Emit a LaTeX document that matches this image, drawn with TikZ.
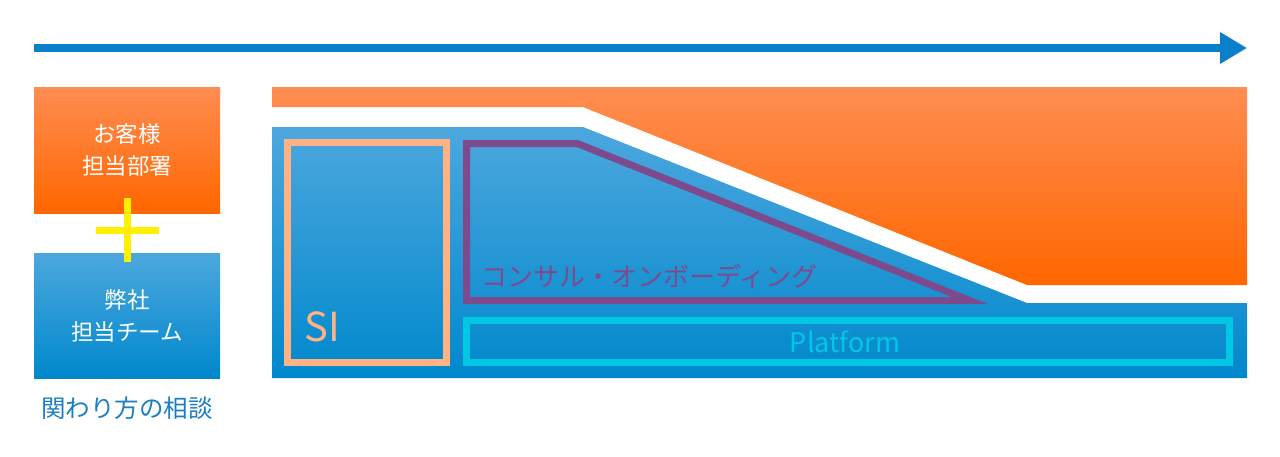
\documentclass[tikz,border=0pt]{standalone}
\usepackage{fontspec}
\setmainfont{Noto Sans CJK JP}
\usepackage{tikz}
\usetikzlibrary{positioning,arrows.meta}

\definecolor{orgtop}{HTML}{FF8D52}
\definecolor{orgbot}{HTML}{FF6600}
\definecolor{blutop}{HTML}{4DA7DE}
\definecolor{blubot}{HTML}{0088CC}
\definecolor{arrblue}{HTML}{0A7FCC}
\definecolor{peach}{HTML}{FFB385}
\definecolor{grape}{HTML}{7E4A8E}
\definecolor{aqua}{HTML}{00C8E4}
\definecolor{plusyel}{HTML}{FFF000}
\definecolor{capblue}{HTML}{1B7EC2}

\begin{document}
\begin{tikzpicture}[
  x=1pt, y=-1pt,
  orgfill/.style={top color=orgtop, bottom color=orgbot, draw=none},
  blufill/.style={top color=blutop, bottom color=blubot, draw=none},
  sidebox/.style={minimum width=186pt, inner sep=0pt, text=white,
    align=center, font=\fontsize{22.5}{32}\selectfont},
  frame/.style={line width=7pt, fill=none},
  plusbar/.style={plusyel, line width=7pt},
  timearr/.style={arrblue, line width=8pt, -{Triangle[length=27pt,width=30pt]}},
]
  \useasboundingbox (0,0) rectangle (1280,456);

  % Time arrow
  \coordinate (tstart) at (34,48);
  \coordinate (tend) at (1247,48);
  \draw[timearr] (tstart) -- (tend);

  % Left side: who is involved
  \node[sidebox, orgfill, minimum height=126pt] (client) at (127,150)
    {お客様\\担当部署};
  \node[sidebox, blufill, minimum height=125pt] (team) at (127,315.5)
    {弊社\\担当チーム};
  \draw[plusbar] (127,198) -- (127,262);
  \draw[plusbar] (96,230) -- (159,230);
  \node[below=15pt of team, text=capblue, font=\fontsize{24.5}{24.5}\selectfont]
    (howto) {関わり方の相談};

  % Right side: share of the work over time
  \path[orgfill] (272,87) -- (1247,87) -- (1247,285) -- (1027,285)
    -- (583,107) -- (272,107) -- cycle;
  \path[blufill] (272,127) -- (583,127) -- (1027,303) -- (1247,303)
    -- (1247,378) -- (272,378) -- cycle;

  % Inner frames
  \draw[frame, peach] (287.5,142.5) rectangle (446.5,362.5);
  \draw[frame, grape] (466.5,143.5) -- (577.3,143.5) -- (969.8,300.5)
    -- (466.5,300.5) -- cycle;
  \draw[frame, aqua] (466.5,320.5) rectangle (1229.5,362.5);

  % Labels
  \node[anchor=base west, inner sep=0pt, text=peach,
    font=\fontsize{40}{40}\selectfont] (si) at (304,341) {SI};
  \node[anchor=west, inner sep=0pt, text=grape,
    font=\fontsize{26}{26}\selectfont] (consult) at (481,276)
    {コンサル・オンボーディング};
  \node[inner sep=0pt, text=aqua, font=\fontsize{27}{27}\selectfont]
    (platform) at (845,342) {Platform};
\end{tikzpicture}
\end{document}
